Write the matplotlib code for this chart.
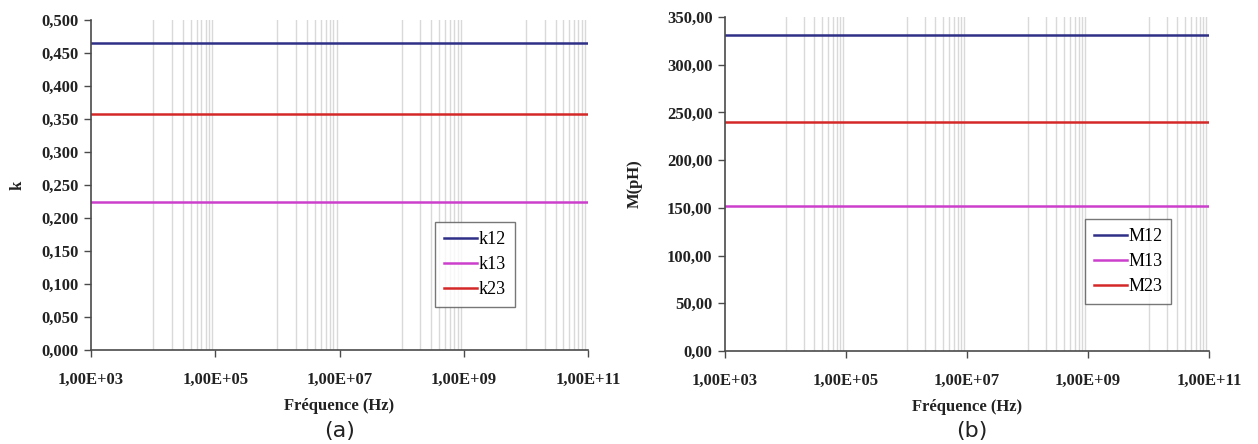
import matplotlib
matplotlib.use('Agg')
import matplotlib.pyplot as plt
import matplotlib.ticker as ticker

# frequency sweep (Hz) and values
freq = [1e3, 1e4, 1e5, 1e6, 1e7, 1e8, 1e9, 1e10, 1e11]

k12 = [0.465, 0.465, 0.465, 0.465, 0.465, 0.465, 0.465, 0.465, 0.465]
k13 = [0.224, 0.224, 0.224, 0.224, 0.224, 0.224, 0.224, 0.224, 0.224]
k23 = [0.358, 0.358, 0.358, 0.358, 0.358, 0.358, 0.358, 0.358, 0.358]

M12 = [331.0, 331.0, 331.0, 331.0, 331.0, 331.0, 331.0, 331.0, 331.0]
M13 = [151.5, 151.5, 151.5, 151.5, 151.5, 151.5, 151.5, 151.5, 151.5]
M23 = [239.5, 239.5, 239.5, 239.5, 239.5, 239.5, 239.5, 239.5, 239.5]

xticks = [1e3, 1e5, 1e7, 1e9, 1e11]
xticklabels = ['1,00E+03', '1,00E+05', '1,00E+07', '1,00E+09', '1,00E+11']
kticks = [0.0, 0.05, 0.1, 0.15, 0.2, 0.25, 0.3, 0.35, 0.4, 0.45, 0.5]
kticklabels = ['0,000', '0,050', '0,100', '0,150', '0,200', '0,250',
               '0,300', '0,350', '0,400', '0,450', '0,500']
Mticks = [0, 50, 100, 150, 200, 250, 300, 350]
Mticklabels = ['0,00', '50,00', '100,00', '150,00', '200,00', '250,00', '300,00', '350,00']

gridDecades = [1e4, 1e6, 1e8, 1e10]

colors = {'12': '#2e2f86', '13': '#cc3fcc', '23': '#d42828'}
serif = 'Liberation Serif'
tickSize = 12


def setupAxes(ax, yticks, ylabels, ymax, ylabel, ylabelpad):
    ax.set_xscale('log')
    ax.set_xlim(1e3, 1e11)
    ax.set_ylim(0, ymax)
    # light vertical lines in every other decade, like the Excel original
    for d in gridDecades:
        for m in range(1, 10):
            ax.axvline(d * m, color='#d9d9d9', lw=1.0, zorder=0)
    ax.spines['top'].set_visible(False)
    ax.spines['right'].set_visible(False)
    for s in ('left', 'bottom'):
        ax.spines[s].set_color('#4a4a4a')
        ax.spines[s].set_linewidth(1.2)
    ax.set_xticks(xticks)
    ax.set_xticklabels(xticklabels)
    ax.xaxis.set_minor_locator(ticker.NullLocator())
    ax.set_yticks(yticks)
    ax.set_yticklabels(ylabels)
    ax.tick_params(direction='out', length=5, width=1, color='#4a4a4a')
    ax.tick_params(axis='x', pad=11)
    ax.tick_params(axis='y', pad=4)
    for lab in ax.get_xticklabels() + ax.get_yticklabels():
        lab.set_fontfamily(serif)
        lab.set_fontweight('bold')
        lab.set_fontsize(tickSize)
        lab.set_color('#222222')
    ax.set_xlabel('Fréquence (Hz)', fontfamily=serif, fontweight='bold', fontsize=12,
                  color='#222222', labelpad=7)
    ax.set_ylabel(ylabel, fontfamily=serif, fontweight='bold', fontsize=12,
                  color='#222222', labelpad=ylabelpad)


def drawLegend(ax, loc):
    leg = ax.legend(loc='upper left', bbox_to_anchor=loc, frameon=True, fancybox=False,
                    edgecolor='#555555', handlelength=1.8, handletextpad=0.1,
                    borderpad=0.5, labelspacing=0.45, borderaxespad=0,
                    prop={'family': serif, 'size': 13})
    leg.get_frame().set_linewidth(1.0)


fig = plt.figure(figsize=(12.58, 4.44), dpi=100)

ax1 = fig.add_axes([91 / 1258, 1 - 350 / 444, 497 / 1258, 330 / 444])
ax1.plot(freq, k12, color=colors['12'], lw=1.8, label='k12')
ax1.plot(freq, k13, color=colors['13'], lw=1.8, label='k13')
ax1.plot(freq, k23, color=colors['23'], lw=1.8, label='k23')
setupAxes(ax1, kticks, kticklabels, 0.5, 'k', 11)
drawLegend(ax1, ((435 - 91) / 497, (350 - 222) / 330))

ax2 = fig.add_axes([725 / 1258, 1 - 351 / 444, 484 / 1258, 334 / 444])
ax2.plot(freq, M12, color=colors['12'], lw=1.8, label='M12')
ax2.plot(freq, M13, color=colors['13'], lw=1.8, label='M13')
ax2.plot(freq, M23, color=colors['23'], lw=1.8, label='M23')
setupAxes(ax2, Mticks, Mticklabels, 350, 'M(pH)', 17)
drawLegend(ax2, ((1085 - 725) / 484, (351 - 219) / 334))

fig.text(340 / 1258, 1 - 431 / 444, '(a)', ha='center', va='center', fontsize=16,
         family='DejaVu Sans', color='#222222')
fig.text(972 / 1258, 1 - 431 / 444, '(b)', ha='center', va='center', fontsize=16,
         family='DejaVu Sans', color='#222222')

fig.savefig('out.png', dpi=100)
